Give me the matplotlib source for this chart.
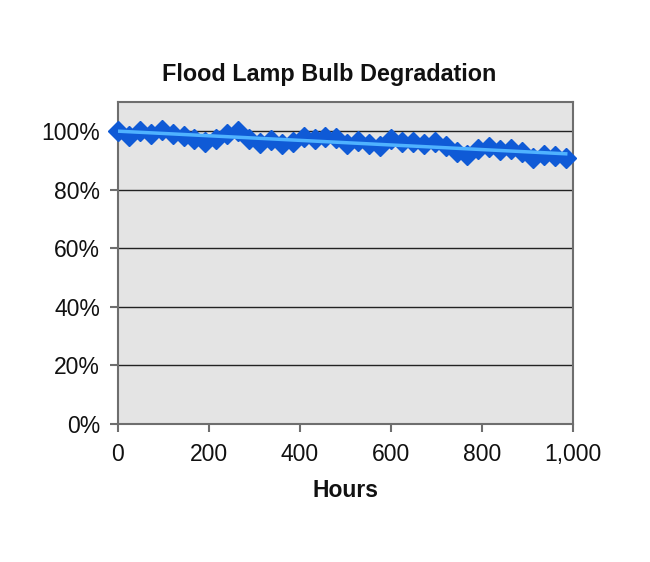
import numpy as np
import matplotlib
matplotlib.use("Agg")
import matplotlib.pyplot as plt
from matplotlib.ticker import FuncFormatter, MultipleLocator

plt.rcParams['font.family'] = ['Liberation Sans', 'DejaVu Sans']

title = "Flood Lamp Bulb Degradation"
x_label = "Hours"
hours = list(range(0, 985, 24))
output = [1.000, 0.985, 1.000, 0.990, 1.005, 0.990, 0.985, 0.975, 0.965, 0.975,
          0.990, 1.000, 0.975, 0.960, 0.970, 0.958, 0.965, 0.980, 0.975, 0.980,
          0.978, 0.958, 0.968, 0.955, 0.950, 0.972, 0.965, 0.962, 0.955, 0.962,
          0.950, 0.930, 0.920, 0.940, 0.945, 0.935, 0.940, 0.930, 0.910, 0.920,
          0.915, 0.908]

fig = plt.figure(figsize=(6.5, 5.62), dpi=100)
ax = fig.add_axes([118/650, 1-424/562, (573-118)/650, (424-102)/562])
ax.set_facecolor('#e4e4e4')

ax.plot(hours, output, linestyle='none', marker='D', markersize=10,
        color='#0f5ad6', markeredgecolor='#0f5ad6', zorder=3, clip_on=False)
coef = np.polyfit(hours, output, 1)
xs = np.array([hours[0], hours[-1]])
ax.plot(xs, np.polyval(coef, xs), color='#4fb2ff', linewidth=2.5, zorder=4)

ax.set_xlim(0, 1000)
ax.set_ylim(0, 1.1)
ax.xaxis.set_major_locator(MultipleLocator(200))
ax.yaxis.set_major_locator(MultipleLocator(0.2))
ax.xaxis.set_major_formatter(FuncFormatter(lambda v, p: f"{int(v):,}"))
ax.yaxis.set_major_formatter(FuncFormatter(lambda v, p: f"{v*100:.0f}%"))
ax.grid(axis='y', color='#222222', linewidth=1.0)
ax.set_axisbelow(True)
for s in ax.spines.values():
    s.set_color('#6e6e6e')
    s.set_linewidth(1.5)
ax.tick_params(axis='both', direction='out', length=6, width=1.5, color='#6e6e6e',
               labelsize=16.5, labelcolor='#111111')
ax.tick_params(axis='y', pad=7)
ax.tick_params(axis='x', pad=8)
ax.set_xlabel(x_label, fontsize=16.5, fontweight='bold', labelpad=9, color='#111111')
fig.text(329/650, 1-75/562, title, ha='center', va='center', fontsize=16.8,
         fontweight='bold', color='#111111')

fig.savefig('out.png', dpi=100)
